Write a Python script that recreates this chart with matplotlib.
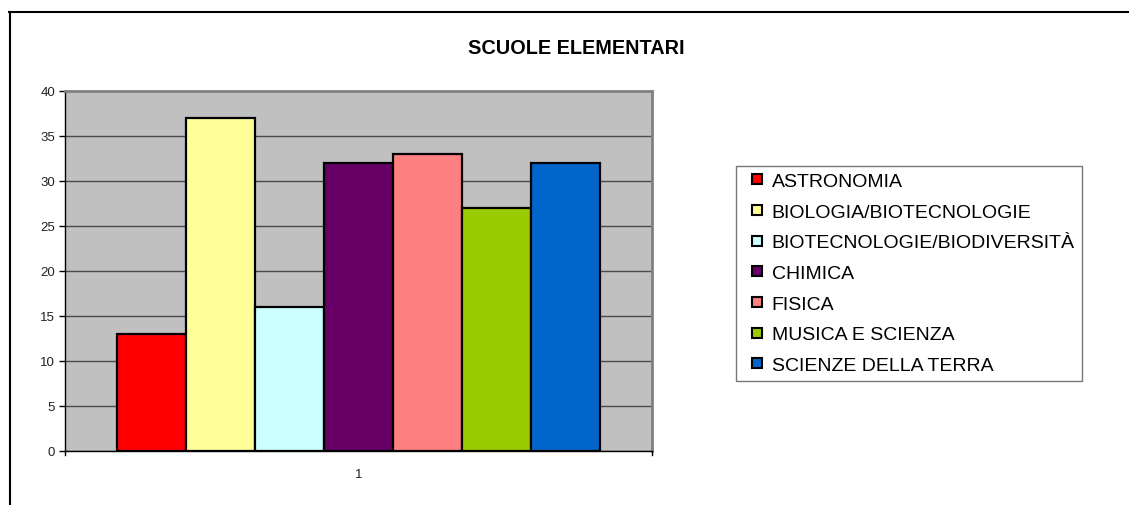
import matplotlib
matplotlib.use("Agg")
import matplotlib.pyplot as plt
from matplotlib.lines import Line2D

plt.rcParams['font.family'] = ['Liberation Sans', 'DejaVu Sans']

title = "SCUOLE ELEMENTARI"
categories = ["ASTRONOMIA", "BIOLOGIA/BIOTECNOLOGIE", "BIOTECNOLOGIE/BIODIVERSITÀ",
              "CHIMICA", "FISICA", "MUSICA E SCIENZA", "SCIENZE DELLA TERRA"]
values = [13, 37, 16, 32, 33, 27, 32]
colors = ["#FF0000", "#FFFF99", "#CCFFFF", "#660066", "#FF8080", "#99CC00", "#0066CC"]
x_label = "1"
y_ticks = [0, 5, 10, 15, 20, 25, 30, 35, 40]

W, H = 1129, 506
fig = plt.figure(figsize=(W / 100, H / 100), dpi=100)
fig.patch.set_facecolor("white")

# outer chart border (top and left visible)
fig.add_artist(Line2D([9 / W, 1.0], [1 - 12.5 / H, 1 - 12.5 / H], color="black", lw=1.5))
fig.add_artist(Line2D([9.5 / W, 9.5 / W], [0.0, 1 - 12.5 / H], color="black", lw=1.5))

ax = fig.add_axes([65 / W, 1 - 452 / H, 587 / W, 360 / H])
ax.set_facecolor("#C0C0C0")

n = len(values)
bw = 0.1176
for i, (v, c, lab) in enumerate(zip(values, colors, categories)):
    ax.bar(1 + (i - (n - 1) / 2) * bw, v, width=bw, color=c, edgecolor="black",
           linewidth=1.6, label=lab, zorder=3)

ax.set_xlim(0.5, 1.5)
ax.set_ylim(0, 40)
ax.set_yticks(y_ticks)
ax.set_yticklabels([str(t) for t in y_ticks], fontsize=9.5, color="#222222")
ax.set_xticks([1])
ax.set_xticklabels([x_label], fontsize=9.5, color="#222222")
ax.tick_params(axis="x", length=0, pad=12)
ax.tick_params(axis="y", length=4, width=1, direction="out", pad=3)
ax.yaxis.grid(True, color="#4a4a4a", linewidth=1, zorder=1)
ax.set_axisbelow(True)

for s in ["top", "right"]:
    ax.spines[s].set_color("#808080")
    ax.spines[s].set_linewidth(2)
ax.spines["left"].set_color("black")
ax.spines["left"].set_linewidth(1)
ax.spines["bottom"].set_color("black")
ax.spines["bottom"].set_linewidth(1)

# small outward ticks at x-axis ends
for xe in [0.5, 1.5]:
    ax.plot([xe, xe], [0, -0.45], color="black", lw=1, clip_on=False, zorder=4)

fig.text(576 / W, 1 - 48 / H, title, ha="center", va="center",
         fontsize=14.3, fontweight="bold")

handles = [Line2D([], [], linestyle="none", marker="s", markersize=7.5,
                  markerfacecolor=c, markeredgecolor="black", markeredgewidth=1.5)
           for c in colors]
leg = fig.legend(handles, categories, loc="upper left",
                 bbox_to_anchor=(736 / W, 1 - 167 / H),
                 bbox_transform=fig.transFigure,
                 fontsize=14, frameon=True, fancybox=False,
                 handlelength=1.48, handletextpad=0.02,
                 labelspacing=0.67, borderpad=0.34, borderaxespad=0)
leg.get_frame().set_edgecolor("#555555")
leg.get_frame().set_linewidth(1)

fig.savefig("out.png", dpi=100, facecolor="white")
